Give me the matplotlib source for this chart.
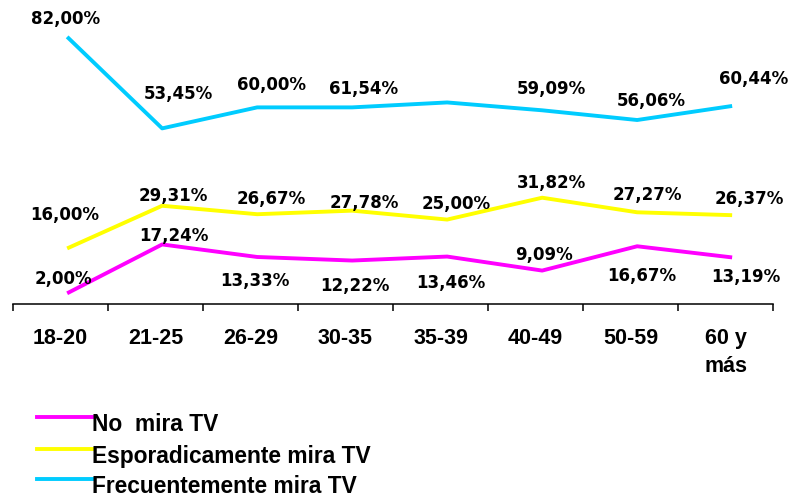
#!/usr/bin/env python3

import matplotlib
matplotlib.use("Agg")
import matplotlib.pyplot as plt
from matplotlib.lines import Line2D

# age groups and shares (%) per viewing habit
categories = ["18-20", "21-25", "26-29", "30-35", "35-39", "40-49", "50-59", "60 y\nmás"]
no_mira = [2.00, 17.24, 13.33, 12.22, 13.46, 9.09, 16.67, 13.19]
esporadico = [16.00, 29.31, 26.67, 27.78, 25.00, 31.82, 27.27, 26.37]
frecuente = [82.00, 53.45, 60.00, 60.00, 61.54, 59.09, 56.06, 60.44]

no_mira_labels = ["2,00%", "17,24%", "13,33%", "12,22%", "13,46%", "9,09%", "16,67%", "13,19%"]
esporadico_labels = ["16,00%", "29,31%", "26,67%", "27,78%", "25,00%", "31,82%", "27,27%", "26,37%"]
frecuente_labels = ["82,00%", "53,45%", "60,00%", "61,54%", "", "59,09%", "56,06%", "60,44%"]

series_names = ["No  mira TV", "Esporadicamente mira TV", "Frecuentemente mira TV"]
colors = ["#FF00FF", "#FFFF00", "#00CCFF"]

# label offsets from each point, in pixels (dx, dy; dy positive = up)
no_mira_off = [(-4, 14), (12, 8), (-2, -24), (3, -25), (4, -26), (2, 16), (5, -30), (14, -20)]
esporadico_off = [(-2, 33), (11, 10), (14, 15), (12, 8), (9, 16), (9, 15), (10, 17), (17, 16)]
frecuente_off = [(-2, 18), (16, 34), (14, 22), (11, 18), (0, 0), (9, 21), (14, 19), (21, 27)]

W, H = 796, 497
fig = plt.figure(figsize=(W / 100, H / 100), dpi=100)
ax = fig.add_axes([13 / W, 1 - 304 / H, 760 / W, 304 / H])

x = list(range(len(categories)))
x_pts = [i + 0.07 for i in x]

series = [
    (no_mira, no_mira_labels, no_mira_off),
    (esporadico, esporadico_labels, esporadico_off),
    (frecuente, frecuente_labels, frecuente_off),
]

for (vals, labels, offs), color in zip(series, colors):
    ax.plot(x_pts, vals, color=color, lw=2.8, solid_capstyle="butt", clip_on=False)
    for xi, v, lab, (dx, dy) in zip(x_pts, vals, labels, offs):
        if not lab:
            continue
        ax.annotate(lab, (xi, v), xytext=(dx, dy), textcoords="offset pixels",
                    ha="center", va="center", fontsize=12, fontweight="bold",
                    family="DejaVu Sans", color="black", annotation_clip=False)

ax.set_xlim(-0.5, 7.5)
ax.set_ylim(-1.34, 93.5)

for side in ["top", "left", "right"]:
    ax.spines[side].set_visible(False)
ax.spines["bottom"].set_linewidth(1.1)
ax.set_yticks([])

ax.set_xticks(x)
ax.set_xticklabels(categories, fontsize=15.5, fontweight="bold", family="Liberation Sans")
for t in ax.get_xticklabels():
    t.set_linespacing(1.45)
ax.set_xticks([i - 0.5 for i in range(len(categories) + 1)], minor=True)
ax.tick_params(axis="x", which="major", length=0, pad=17)
ax.tick_params(axis="x", which="minor", length=5, width=1.1, direction="out")

# legend drawn by hand, line sits at the top left of its text
legend_y = [417, 449, 479]
for name, color, ly in zip(series_names, colors, legend_y):
    fig.add_artist(Line2D([37 / W, 92 / W], [1 - ly / H] * 2, color=color, lw=2.8,
                          transform=fig.transFigure))
    fig.text(92 / W, 1 - (ly - 4) / H, name, ha="left", va="top", fontsize=16.4,
             fontweight="bold", family="Liberation Sans")

fig.savefig("out.png", dpi=100)
